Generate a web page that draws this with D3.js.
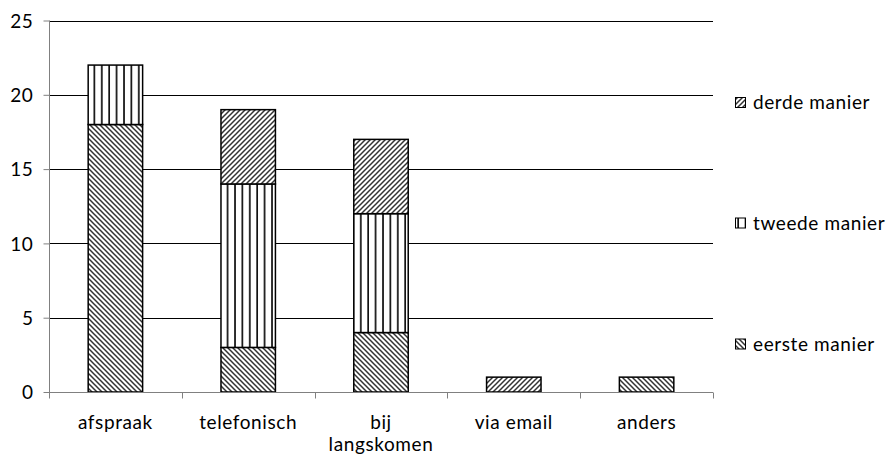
<!DOCTYPE html>
<html><head><meta charset="utf-8">
<script src="https://cdn.jsdelivr.net/npm/d3@7"></script>
<style>body{margin:0;background:#fff}svg{display:block}text{font-family:Lato,"Open Sans",sans-serif;fill:#000;letter-spacing:0.6px}</style>
</head><body><svg id="c" width="891" height="459"></svg>
<script>
const categories = ["afspraak","telefonisch","bij langskomen","via email","anders"];
const seriesNames = ["eerste manier","tweede manier","derde manier"];
const eerste = [18,3,4,0,1];
const tweede = [4,11,8,0,0];
const derde  = [0,5,5,1,0];
const yTicks = [0,5,10,15,20,25];

const svg = d3.select("#c");
const plotL=49, plotR=713, plotT=20.5, plotB=392;
const FS = "19px";
const x = d3.scaleBand().domain(categories).range([plotL,plotR]).paddingInner(0.59).paddingOuter(0.295);
const y = d3.scaleLinear().domain([0,25]).range([plotB,plotT]);

const defs = svg.append("defs");
function diag(id, dir){
  const p = defs.append("pattern").attr("id",id).attr("patternUnits","userSpaceOnUse").attr("width",5).attr("height",5);
  p.append("rect").attr("width",5).attr("height",5).attr("fill","#fff");
  const d = dir>0 ? "M-1,6 L6,-1 M-1,1 L1,-1 M4,6 L6,4" : "M-1,-1 L6,6 M-1,4 L1,6 M4,-1 L6,1";
  p.append("path").attr("d",d).attr("stroke","#333").attr("stroke-width",1.5);
}
diag("pEerste",-1); diag("pDerde",1);
const pv = defs.append("pattern").attr("id","pTweede").attr("patternUnits","userSpaceOnUse").attr("width",7.4).attr("height",10).attr("x",plotL);
pv.append("rect").attr("width",7.4).attr("height",10).attr("fill","#fff");
pv.append("line").attr("x1",1).attr("x2",1).attr("y1",0).attr("y2",10).attr("stroke","#000").attr("stroke-width",1.6);
const fills = ["url(#pEerste)","url(#pTweede)","url(#pDerde)"];

// gridlines
svg.append("g").selectAll("line").data(yTicks.filter(d=>d>0)).join("line")
  .attr("x1",plotL).attr("x2",plotR).attr("y1",d=>Math.round(y(d))+0.5).attr("y2",d=>Math.round(y(d))+0.5)
  .attr("stroke","#000").attr("stroke-width",1);

// y axis
const ya = svg.append("g").attr("transform",`translate(${plotL+0.5},0)`)
  .call(d3.axisLeft(y).tickValues(yTicks).tickSize(6).tickPadding(10));
ya.select(".domain").attr("stroke","#808080").attr("d",`M0,${plotB+6}V${plotT}`);
ya.selectAll(".tick line").attr("stroke","#808080");
ya.selectAll(".tick text").style("font-size",FS).style("font-family","Lato,'Open Sans',sans-serif").attr("dy","0.35em");

// stacked bars
const rows = categories.map((c,i)=>({cat:c, eerste:eerste[i], tweede:tweede[i], derde:derde[i]}));
const stack = d3.stack().keys(["eerste","tweede","derde"])(rows);
stack.forEach((s,k)=>{
  svg.append("g").selectAll("rect").data(s.filter(d=>d[1]-d[0]>0)).join("rect")
    .attr("x",d=>x(d.data.cat)).attr("width",x.bandwidth())
    .attr("y",d=>y(d[1])).attr("height",d=>y(d[0])-y(d[1]))
    .attr("fill",fills[k]).attr("stroke","#000").attr("stroke-width",1.5);
});

// x axis
const xa = svg.append("g").attr("transform",`translate(0,${plotB+0.5})`);
xa.append("line").attr("x1",plotL).attr("x2",plotR).attr("stroke","#808080");
const bounds = d3.range(categories.length+1).map(i=>plotL+(plotR-plotL)*i/categories.length);
xa.selectAll("line.t").data(bounds).join("line").attr("class","t")
  .attr("x1",d=>Math.round(d)+0.5).attr("x2",d=>Math.round(d)+0.5).attr("y1",0).attr("y2",6).attr("stroke","#808080");
const lab = xa.selectAll("text").data(categories).join("text")
  .attr("x",d=>x(d)+x.bandwidth()/2).attr("y",36).attr("text-anchor","middle").style("font-size",FS);
lab.each(function(d){
  const words = d==="bij langskomen" ? ["bij","langskomen"] : [d];
  d3.select(this).selectAll("tspan").data(words).join("tspan")
    .attr("x",x(d)+x.bandwidth()/2).attr("dy",(w,i)=>i===0?0:22).text(w=>w);
});

// legend
const legY = [344, 223, 102.5];
const leg = svg.append("g");
seriesNames.forEach((n,k)=>{
  leg.append("rect").attr("x",735.5).attr("y",legY[k]-5).attr("width",10).attr("height",10)
    .attr("fill",fills[k]).attr("stroke","#000").attr("stroke-width",1);
  leg.append("text").attr("x",753).attr("y",legY[k]).attr("dy","0.35em").style("font-size",FS).text(n);
});
</script></body></html>
